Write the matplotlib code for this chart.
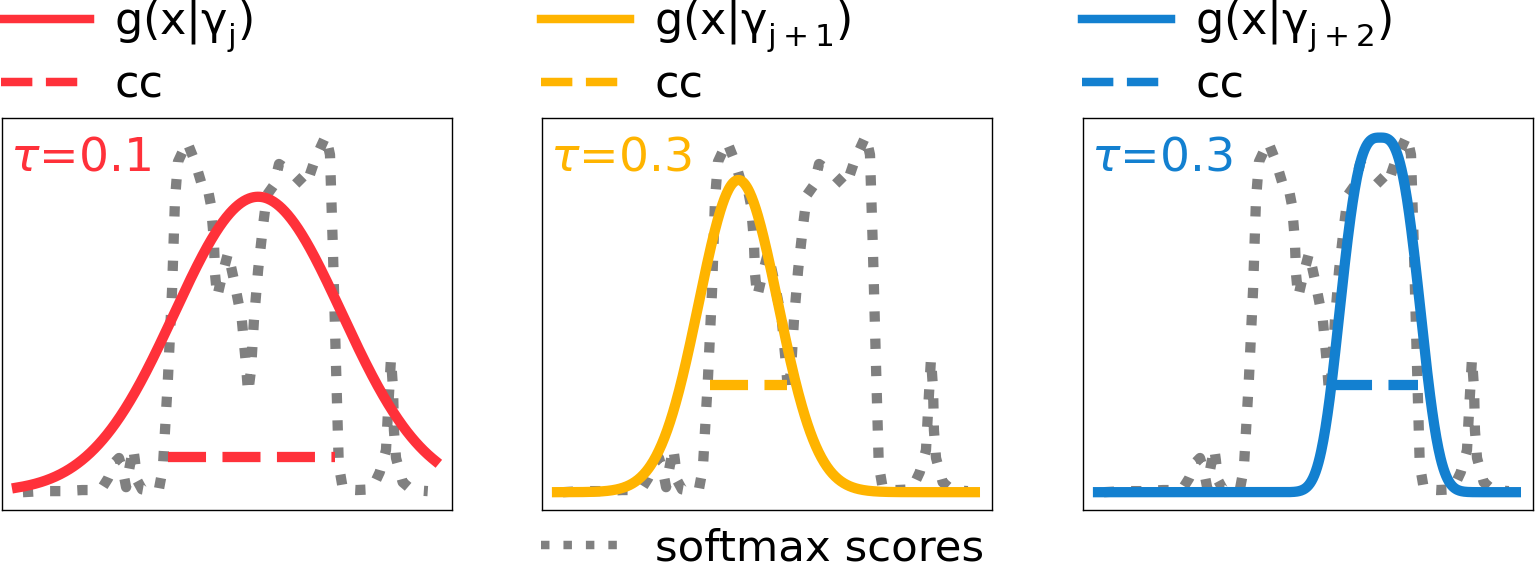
import numpy as np
import matplotlib
matplotlib.use("Agg")
import matplotlib.pyplot as plt
from matplotlib.lines import Line2D

# ---- data ----
frames = [1.4, 6.0, 10.8, 15.6, 19.1, 20.3, 21.8, 23.4, 24.4, 25.4, 26.1, 26.8,
          27.8, 28.2, 28.7, 29.9, 32.3, 34.0, 34.9, 36.1, 37.1, 37.8, 38.5, 40.7,
          42.6, 44.3, 45.5, 46.4, 47.1, 47.4, 47.9, 49.0, 50.5, 51.9, 53.8, 54.8,
          55.3, 56.0, 56.7, 57.7, 58.9, 59.8, 61.5, 62.7, 65.8, 69.1, 71.3, 73.9,
          74.9, 75.6, 76.3, 77.0, 78.0, 81.3, 84.9, 86.8, 88.3, 88.8, 89.5, 90.0,
          90.2, 90.7, 92.3, 94.5, 98.3]
softmax = [0.000, 0.003, 0.003, 0.006, 0.006, 0.011, 0.039, 0.084, 0.096, 0.056,
           0.014, 0.062, 0.124, 0.090, 0.034, 0.008, 0.003, 0.011, 0.067, 0.315,
           0.567, 0.820, 0.927, 0.983, 0.927, 0.860, 0.860, 0.806, 0.708, 0.610,
           0.548, 0.604, 0.671, 0.596, 0.483, 0.357, 0.278, 0.343, 0.483, 0.624,
           0.750, 0.834, 0.862, 0.921, 0.896, 0.857, 0.933, 1.000, 0.947, 0.680,
           0.371, 0.076, 0.008, 0.006, 0.008, 0.056, 0.118, 0.230, 0.376, 0.287,
           0.174, 0.096, 0.028, 0.006, 0.003]

tau_values = [0.1, 0.3, 0.3]
tau_labels = [r"$\tau$=0.1", r"$\tau$=0.3", r"$\tau$=0.3"]
g_labels = [r"g(x|$\mathrm{\gamma}_{\mathrm{j}}^{\,}$)",
            r"g(x|$\mathrm{\gamma}_{\mathrm{j+1}}^{\,}$)",
            r"g(x|$\mathrm{\gamma}_{\mathrm{j+2}}^{\,}$)"]
g_center = [57.7, 43.4, 67.5]
g_scale = [28.3, 13.4, 11.0]
g_shape = [2.0, 2.0, 3.1]
g_peak = [0.829, 0.876, 0.995]
g_range = [0.0, 100.0]
cc_start = [36.1, 36.6, 56.5]
cc_end = [76.1, 55.0, 76.5]
cc_label = "cc"
softmax_label = "softmax scores"
colors = ["#FF313A", "#FFB400", "#1380D0"]
gray = "#808080"

# ---- layout ----
W, H = 1535, 571
fig = plt.figure(figsize=(W / 100, H / 100), dpi=100)
lefts = [2, 542, 1083]
LW = 7.4
LEG_LW = 6.1
FS = 32

axes = []
for i in range(3):
    ax = fig.add_axes([lefts[i] / W, 1 - 510 / H, 450 / W, 392 / H])
    axes.append(ax)
    c = colors[i]
    ax.plot(frames, softmax, color=gray, lw=LW, ls=":", zorder=1)
    ax.plot([cc_start[i], cc_end[i]], [tau_values[i], tau_values[i]],
            color=c, lw=LW, ls="--", zorder=2)
    xs = np.linspace(g_range[0], g_range[1], 600)
    gy = g_peak[i] * np.exp(-np.abs((xs - g_center[i]) / g_scale[i]) ** g_shape[i])
    ax.plot(xs, gy, color=c, lw=LW, zorder=3)
    ax.set_xlim(-3.6, 104.1)
    ax.set_ylim(-0.05, 1.05)
    ax.set_xticks([])
    ax.set_yticks([])
    for sp in ax.spines.values():
        sp.set_linewidth(1.0)
    ax.text(0.018, 0.867, tau_labels[i], transform=ax.transAxes, fontsize=34,
            color=c, ha="left", va="baseline")
    handles = [Line2D([], [], color=c, lw=LEG_LW),
               Line2D([], [], color=c, lw=LEG_LW, ls="--")]
    ax.legend(handles, [g_labels[i], cc_label], loc="lower left",
              bbox_to_anchor=(-0.003, 1.03), frameon=False, borderpad=0,
              borderaxespad=0, fontsize=FS, handlelength=2.0,
              handletextpad=0.56, labelspacing=0.2)

axes[1].add_artist(axes[1].get_legend())
sm_handle = Line2D([], [], color=gray, lw=LEG_LW, ls=":")
axes[1].legend([sm_handle], [softmax_label], loc="upper left",
               bbox_to_anchor=(-0.003, -0.045), frameon=False, borderpad=0,
               borderaxespad=0, fontsize=31.3, handlelength=2.05,
               handletextpad=0.57)

fig.savefig("out.png", dpi=100)
